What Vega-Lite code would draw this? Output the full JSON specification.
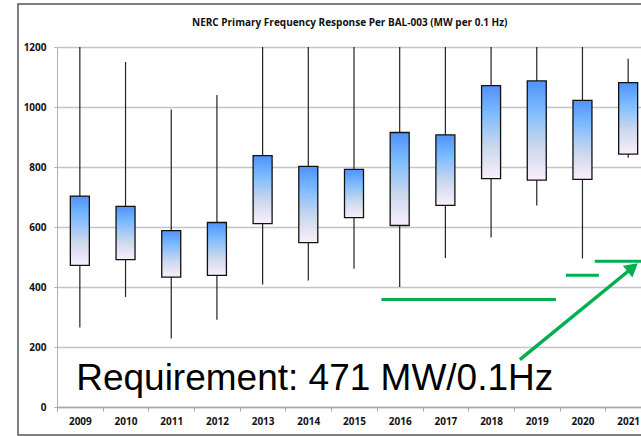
{
  "$schema": "https://vega.github.io/schema/vega-lite/v6.json",
  "width": 625,
  "height": 431,
  "autosize": "none",
  "padding": {"left": 18, "top": 4, "right": -2, "bottom": 1},
  "background": "white",
  "title": {
    "text": "NERC Primary Frequency Response Per BAL-003 (MW per 0.1  Hz)",
    "font": "Open Sans",
    "fontSize": 10,
    "fontWeight": "bold",
    "color": "#111",
    "anchor": "start",
    "frame": "group",
    "dx": 174,
    "offset": -29,
    "baseline": "middle"
  },
  "datasets": {
    "boxes": [
      {"year": "2009", "wlo": 265, "blo": 472, "bhi": 703, "whi": 1200},
      {"year": "2010", "wlo": 367, "blo": 491, "bhi": 669, "whi": 1150},
      {"year": "2011", "wlo": 228, "blo": 433, "bhi": 588, "whi": 992},
      {"year": "2012", "wlo": 291, "blo": 439, "bhi": 615, "whi": 1040},
      {"year": "2013", "wlo": 408, "blo": 611, "bhi": 838, "whi": 1200},
      {"year": "2014", "wlo": 422, "blo": 548, "bhi": 802, "whi": 1200},
      {"year": "2015", "wlo": 461, "blo": 631, "bhi": 792, "whi": 1200},
      {"year": "2016", "wlo": 400, "blo": 605, "bhi": 915, "whi": 1200},
      {"year": "2017", "wlo": 497, "blo": 672, "bhi": 907, "whi": 1200},
      {"year": "2018", "wlo": 565, "blo": 761, "bhi": 1071, "whi": 1200},
      {"year": "2019", "wlo": 672, "blo": 756, "bhi": 1087, "whi": 1200},
      {"year": "2020", "wlo": 495, "blo": 759, "bhi": 1022, "whi": 1200},
      {"year": "2021", "wlo": 831, "blo": 843, "bhi": 1081, "whi": 1161}
    ],
    "greenlines": [
      {"x": 2015.6, "x2": 2019.42, "y": 358},
      {"x": 2019.64, "x2": 2020.36, "y": 439},
      {"x": 2020.27, "x2": 2021.5, "y": 486}
    ],
    "arrow": [
      {"x": 2018.63, "y": 158, "x2": 2021.1, "y2": 465}
    ],
    "label": [
      {"x": 2008.92, "y": 56, "text": "Requirement: 471 MW/0.1Hz"}
    ]
  },
  "layer": [
    {
      "data": {"name": "boxes"},
      "encoding": {
        "x": {
          "field": "year",
          "type": "ordinal",
          "scale": {"range": [39, 633], "paddingInner": 0, "paddingOuter": 0},
          "axis": {
            "title": null,
            "offset": -28,
            "labelAngle": 0,
            "tickBand": "extent",
            "tickSize": 4,
            "labelPadding": 5,
            "domainColor": "#a8a8a8",
            "tickColor": "#a8a8a8",
            "domainWidth": 1.5,
            "labelFont": "Open Sans",
            "labelFontSize": 10,
            "labelFontWeight": "bold",
            "labelColor": "#111",
            "grid": false
          }
        }
      },
      "layer": [
        {
          "mark": {"type": "rule", "color": "#222", "strokeWidth": 1.2},
          "encoding": {
            "y": {
              "field": "wlo",
              "type": "quantitative",
              "scale": {"domain": [0, 1200], "range": [403, 43], "nice": false, "zero": false},
              "axis": {
                "title": null,
                "offset": -39,
                "values": [0, 200, 400, 600, 800, 1000, 1200],
                "format": "d",
                "tickSize": 3,
                "labelPadding": 8,
                "domainColor": "#b0b0b0",
                "tickColor": "#b0b0b0",
                "gridColor": "#c4c4c4",
                "gridWidth": 1.5,
                "labelFont": "Open Sans",
                "labelFontSize": 10,
                "labelFontWeight": "bold",
                "labelColor": "#111"
              }
            },
            "y2": {"field": "whi"}
          }
        },
        {
          "mark": {
            "type": "bar",
            "width": 19,
            "stroke": "#111",
            "strokeWidth": 1.3,
            "fill": {
              "gradient": "linear",
              "x1": 0, "y1": 0, "x2": 0, "y2": 1,
              "stops": [
                {"offset": 0, "color": "#4f92fb"},
                {"offset": 0.3, "color": "#7dbbff"},
                {"offset": 0.65, "color": "#c9d7ec"},
                {"offset": 1, "color": "#fbeefb"}
              ]
            }
          },
          "encoding": {
            "y": {"field": "blo", "type": "quantitative", "scale": {"domain": [0, 1200], "range": [403, 43], "nice": false, "zero": false}},
            "y2": {"field": "bhi"}
          }
        }
      ]
    },
    {
      "layer": [
        {
          "data": {"name": "greenlines"},
          "mark": {"type": "rule", "color": "#00b050", "strokeWidth": 3},
          "encoding": {
            "x": {"field": "x", "type": "quantitative", "scale": {"domain": [2008.5, 2021.5], "range": [39, 633], "nice": false, "zero": false}, "axis": null},
            "x2": {"field": "x2"},
            "y": {"field": "y", "type": "quantitative", "scale": {"domain": [0, 1200], "range": [403, 43], "nice": false, "zero": false}}
          }
        },
        {
          "data": {"name": "arrow"},
          "mark": {"type": "rule", "color": "#00b050", "strokeWidth": 3.5},
          "encoding": {
            "x": {"field": "x", "type": "quantitative", "scale": {"domain": [2008.5, 2021.5], "range": [39, 633], "nice": false, "zero": false}, "axis": null},
            "x2": {"field": "x2"},
            "y": {"field": "y", "type": "quantitative", "scale": {"domain": [0, 1200], "range": [403, 43], "nice": false, "zero": false}},
            "y2": {"field": "y2"}
          }
        },
        {
          "data": {"name": "arrow"},
          "mark": {"type": "point", "shape": "triangle-up", "size": 230, "angle": 51, "filled": true, "color": "#00b050", "opacity": 1},
          "encoding": {
            "x": {"field": "x2", "type": "quantitative", "scale": {"domain": [2008.5, 2021.5], "range": [39, 633], "nice": false, "zero": false}, "axis": null},
            "y": {"field": "y2", "type": "quantitative", "scale": {"domain": [0, 1200], "range": [403, 43], "nice": false, "zero": false}}
          }
        },
        {
          "data": {"name": "label"},
          "mark": {"type": "text", "font": "Liberation Sans", "fontSize": 37, "align": "left", "baseline": "alphabetic", "color": "#000"},
          "encoding": {
            "x": {"field": "x", "type": "quantitative", "scale": {"domain": [2008.5, 2021.5], "range": [39, 633], "nice": false, "zero": false}, "axis": null},
            "y": {"field": "y", "type": "quantitative", "scale": {"domain": [0, 1200], "range": [403, 43], "nice": false, "zero": false}},
            "text": {"field": "text"}
          }
        }
      ]
    }
  ],
  "resolve": {"scale": {"x": "independent"}, "axis": {"x": "independent"}},
  "config": {
    "view": {"stroke": "#555", "strokeWidth": 1.5}
  }
}
